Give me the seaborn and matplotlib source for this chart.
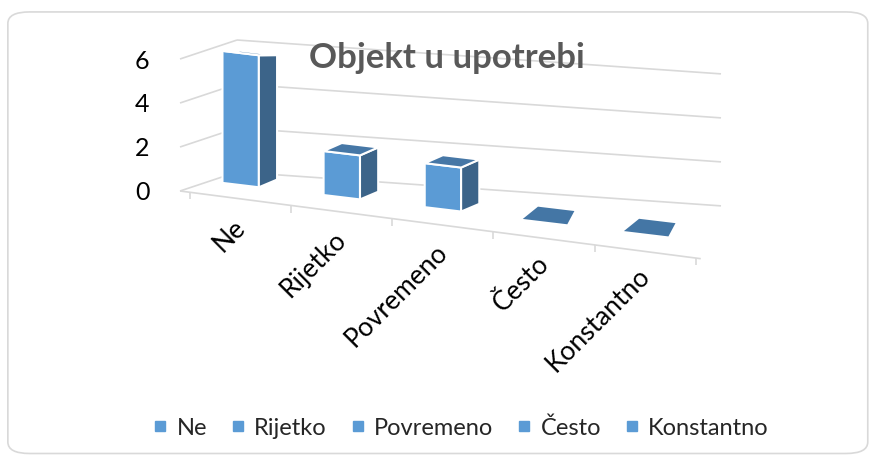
import matplotlib
matplotlib.use("Agg")
import matplotlib.pyplot as plt
import seaborn as sns
import pandas as pd
import numpy as np
from matplotlib.patches import Polygon, FancyBboxPatch
from matplotlib.lines import Line2D
from matplotlib.transforms import Affine2D, offset_copy

# podaci
kategorije = ["Ne", "Rijetko", "Povremeno", "Često", "Konstantno"]
vrijednosti = [6, 2, 2, 0, 0]
y_ticks = [0, 2, 4, 6]

df = pd.DataFrame({"kategorija": kategorije, "broj": vrijednosti})

sns.set_theme(style="white")
plt.rcParams["font.family"] = ["Lato", "DejaVu Sans"]

W, H = 873, 459
fig = plt.figure(figsize=(W / 100, H / 100), dpi=100)
okvir = FancyBboxPatch((0.009, 0.012), 0.985, 0.962, boxstyle="round,pad=0,rounding_size=0.025",
                       transform=fig.transFigure, facecolor="white", edgecolor="#d9d9d9", lw=1.2, zorder=-5)
fig.patches.append(okvir)

# os: lijevi rub na 180 px, nula na 191 px od vrha, 22 px po jedinici
ax = fig.add_axes([180 / W, (H - 191) / H, 541 / W, 6.5 * 22 / H])
ax.patch.set_alpha(0)


def nagib(x_sidro, k, pomak=0):
    # koso "3D" izoblicenje u pikselima: y pada za k po pikselu udesno
    return Affine2D().translate(-x_sidro, 0).skew(0, np.arctan(-k)).translate(x_sidro, pomak)


front = "#5B9BD5"
side = "#3C6489"
top = "#4677A6"

sns.barplot(data=df, x="kategorija", y="broj", color=front, width=0.36, saturation=1,
            edgecolor="white", linewidth=1.5, ax=ax, zorder=3)

ax.set_ylim(0, 6.5)
ax.set_xlim(-0.6, 4.75)
ax.set_yticks(y_ticks)

tf_stupci = ax.transData + nagib(190, 0.12, 12)
tf_lijevo = ax.get_yaxis_transform() + nagib(180, -0.333)
tf_straga = ax.get_yaxis_transform() + nagib(237, 0.07, 19)
tf_pod = ax.transData + nagib(180, 0.13)

# mreza: lijevi zid, straznji zid, prednji rub poda
kut = 57 / 541
ax.hlines(y_ticks, 0, kut, transform=tf_lijevo, color="#d9d9d9", lw=1.2, zorder=0, clip_on=False)
ax.hlines(y_ticks, kut, 1.0, transform=tf_straga, color="#d9d9d9", lw=1.2, zorder=0, clip_on=False)
ax.hlines(0, -0.6, 4.55, transform=tf_pod, color="#d9d9d9", lw=1.2, zorder=1, clip_on=False)
granice = np.arange(len(kategorije) + 1) - 0.5
ax.vlines(granice, -0.32, 0, transform=tf_pod, color="#d9d9d9", lw=1.2, zorder=1, clip_on=False)

# lazni 3D: bocna i gornja ploha za svaki stupac
dx = 0.18
for p in list(ax.patches):
    p.set_transform(tf_stupci)
    p.set_clip_on(False)
    x0, w, h = p.get_x(), p.get_width(), p.get_height()
    x1 = x0 + w
    dy_top = 0.089 * (7.2 - h)
    dy_bot = 0.089 * 7.2 * 0.7
    if h > 0:
        ax.add_patch(Polygon([(x1, 0), (x1 + dx, dy_bot), (x1 + dx, h + dy_top), (x1, h)],
                             closed=True, facecolor=side, edgecolor="white", lw=1.5, zorder=3,
                             transform=tf_stupci, clip_on=False))
        ax.add_patch(Polygon([(x0, h), (x0 + dx, h + dy_top), (x1 + dx, h + dy_top), (x1, h)],
                             closed=True, facecolor=top, edgecolor="white", lw=1.5, zorder=4,
                             transform=tf_stupci, clip_on=False))
    else:
        ax.add_patch(Polygon([(x0 - 0.03, 0), (x0 + 0.12, dy_top), (x1 + 0.12, dy_top), (x1 + 0.05, 0)],
                             closed=True, facecolor="#4476A5", edgecolor="none", zorder=4,
                             transform=tf_stupci, clip_on=False))

sns.despine(ax=ax, left=True, bottom=True, top=True, right=True)
ax.tick_params(axis="y", labelsize=18, colors="black", length=0, pad=22)
ax.set_xticks([])
ax.set_xlabel("")
ax.set_ylabel("")

# oznake kategorija prate nagib poda
tf_oznake = offset_copy(tf_stupci, fig=fig, x=-8, y=-30, units="dots")
for i, k in enumerate(kategorije):
    ax.text(i, 0, k, transform=tf_oznake, rotation=45, ha="right", va="top",
            rotation_mode="anchor", fontsize=19, color="black")

fig.text(0.512, 0.874, "Objekt u upotrebi", ha="center", va="center", fontsize=25,
         fontweight="bold", color="#595959")

handles = [Line2D([], [], marker="s", ls="", color=front, markersize=7) for _ in kategorije]
fig.legend(handles, kategorije, loc="center", bbox_to_anchor=(0.528, 0.068), ncol=5, frameon=False,
           fontsize=17, handlelength=0.6, handletextpad=0.4, columnspacing=1.0)

fig.savefig("out.png", dpi=100)
